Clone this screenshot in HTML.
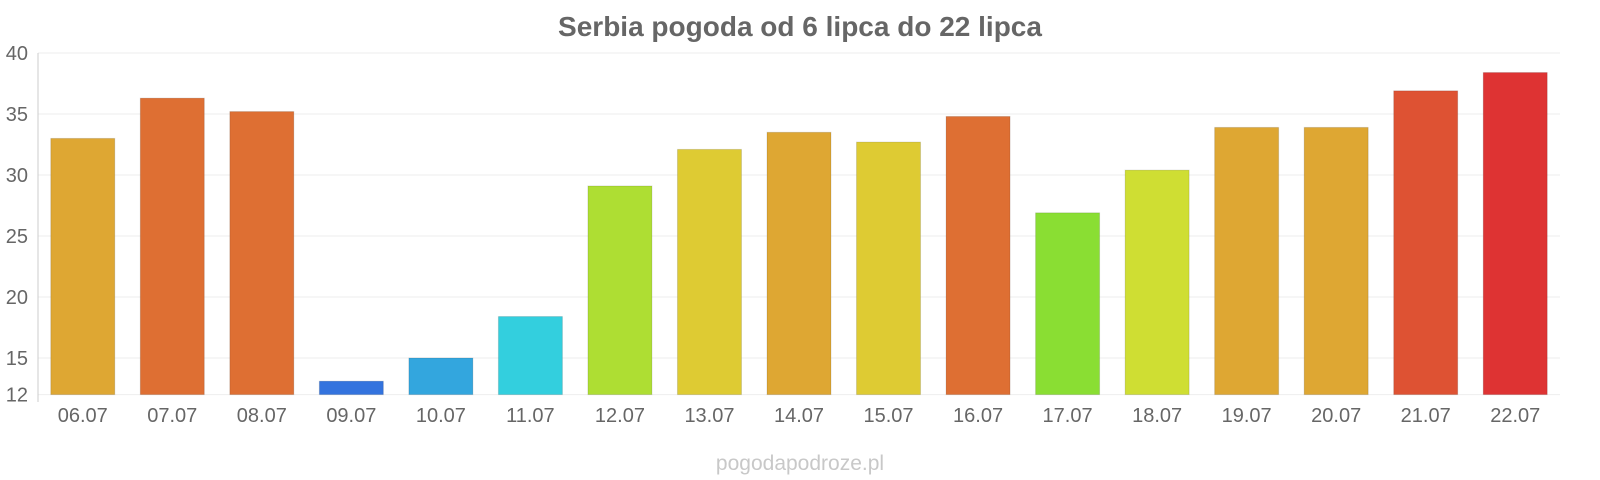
<!DOCTYPE html>
<html><head><meta charset="utf-8"><style>
html,body{margin:0;padding:0;background:#fff;}
svg{display:block;font-family:"Liberation Sans",sans-serif;}
</style></head><body>
<svg id="chart" width="1600" height="480">
<text x="800" y="36" text-anchor="middle" font-size="28" font-weight="bold" fill="#666">Serbia pogoda od 6 lipca do 22 lipca</text>
<text x="800" y="470" text-anchor="middle" font-size="21" fill="#c8c8c8">pogodapodroze.pl</text>
<g id="grid"></g><g id="bars"></g><g id="xlabels"></g>
</svg>
<script>
const categories=["06.07","07.07","08.07","09.07","10.07","11.07","12.07","13.07","14.07","15.07","16.07","17.07","18.07","19.07","20.07","21.07","22.07"];
const values=[33,36.3,35.2,13.1,15,18.4,29.1,32.1,33.5,32.7,34.8,26.9,30.4,33.9,33.9,36.9,38.4];
const colors=["#dea733","#de6f33","#de6f33","#3373de","#33a6de","#33cfde","#aede33","#decb33","#dea733","#decb33","#de6f33","#8ade33","#cfde33","#dea733","#dea733","#de5233","#de3333"];
const yTicks=[12,15,20,25,30,35,40];
const ns="http://www.w3.org/2000/svg";
const yMin=12,yMax=40,yTop=53,yBot=394.6,xL=38,xR=1560;
const y=v=>yBot-(v-yMin)/(yMax-yMin)*(yBot-yTop);
const step=(xR-xL)/categories.length;
const x=i=>xL+step*i+step/2;
const grid=document.getElementById('grid');
yTicks.forEach(t=>{
 const l=document.createElementNS(ns,'line');
 l.setAttribute('x1',xL);l.setAttribute('x2',xR);l.setAttribute('y1',y(t));l.setAttribute('y2',y(t));
 l.setAttribute('stroke','#eee');
 
 
 grid.appendChild(l);
 const tx=document.createElementNS(ns,'text');
 tx.setAttribute('x',28);tx.setAttribute('y',y(t)+7);tx.setAttribute('text-anchor','end');
 tx.setAttribute('font-size','20');tx.setAttribute('fill','#666');tx.textContent=t;
 
 
 grid.appendChild(tx);
});
const ax=document.createElementNS(ns,'line');
ax.setAttribute('x1',xL);ax.setAttribute('x2',xL);ax.setAttribute('y1',yTop);ax.setAttribute('y2',402);ax.setAttribute('stroke','#ccc');


grid.appendChild(ax);
const bars=document.getElementById('bars'),xl=document.getElementById('xlabels');
categories.forEach((c,i)=>{
 const r=document.createElementNS(ns,'rect');
 const bw=64;
 r.setAttribute('x',x(i)-bw/2);r.setAttribute('width',bw);
 r.setAttribute('y',y(values[i]));r.setAttribute('height',yBot-y(values[i]));
 r.setAttribute('fill',colors[i]);r.setAttribute('stroke','rgba(0,0,0,0.12)');
 
 
 bars.appendChild(r);
 const t=document.createElementNS(ns,'text');
 t.setAttribute('x',x(i));t.setAttribute('y',422);t.setAttribute('text-anchor','middle');
 t.setAttribute('font-size','20');t.setAttribute('fill','#666');t.textContent=c;
 
 
 xl.appendChild(t);
});
</script>
</body></html>
